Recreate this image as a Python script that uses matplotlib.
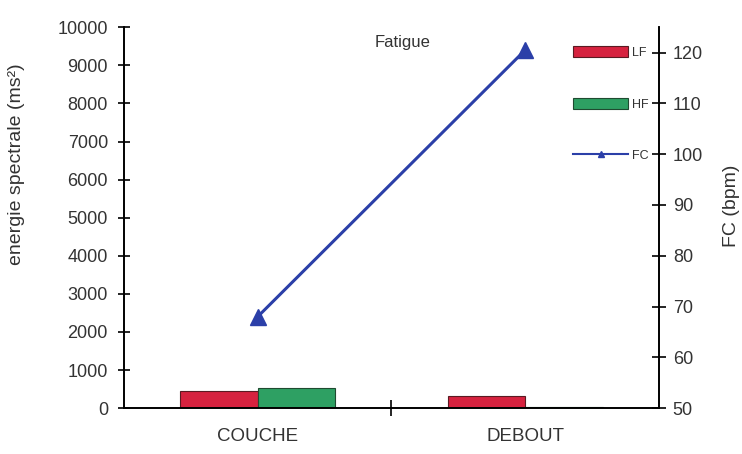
import matplotlib.pyplot as plt
from matplotlib.ticker import FixedLocator

# données
positions = ["COUCHE", "DEBOUT"]
lf = [450, 330]
hf = [530, 30]
fc = [68, 120.5]

COL_LF = "#d6223f"
COL_HF = "#2ea063"
COL_FC = "#2b3fa8"
TXT = "#333333"

plt.rcParams["font.family"] = ["Liberation Sans", "DejaVu Sans"]

fig = plt.figure(figsize=(7.42, 4.54), dpi=100)
ax = fig.add_axes([0.167, 0.101, 0.721, 0.839])
ax2 = ax.twinx()

x = range(len(positions))
w = 0.29
ax.bar([i - w for i in x], lf, width=w, align="edge", color=COL_LF,
       edgecolor="#5a1a22", linewidth=0.8, label="LF")
ax.bar(list(x), hf, width=w, align="edge", color=COL_HF,
       edgecolor="#1f4a30", linewidth=0.8, label="HF")
ax2.plot(list(x), fc, color=COL_FC, linewidth=2.2, marker="^",
         markersize=11, label="FC")

ax.set_xlim(-0.5, 1.5)
ax.set_ylim(0, 10000)
ax2.set_ylim(50, 125)

ax.set_yticks(range(0, 10001, 1000))
ax2.set_yticks(range(50, 121, 10))
ax.set_xticks(list(x))
ax.set_xticklabels(positions)
ax.xaxis.set_minor_locator(FixedLocator([0.5]))
ax.tick_params(axis="x", which="major", length=0, pad=14,
               labelsize=13.5, labelcolor=TXT)
ax.tick_params(axis="x", which="minor", direction="inout", length=12,
               width=1.2)
ax.tick_params(axis="y", direction="inout", length=9, width=1.2,
               labelsize=13, labelcolor=TXT, pad=7)
ax2.tick_params(axis="y", direction="inout", length=10, width=1.2,
                labelsize=13, labelcolor=TXT, pad=5)

for a in (ax, ax2):
    a.spines["top"].set_visible(False)
    for s in ("left", "right", "bottom"):
        a.spines[s].set_linewidth(1.2)

ax.set_ylabel("energie spectrale (ms²)", fontsize=14, color=TXT)
ax.yaxis.set_label_coords(-0.185, 0.64)
ax2.set_ylabel("FC (bpm)", fontsize=14, color=TXT)
ax2.yaxis.set_label_coords(1.12, 0.53)

ax.text(0.52, 0.96, "Fatigue", transform=ax.transAxes, ha="center",
        va="center", fontsize=12, color=TXT)

h1, l1 = ax.get_legend_handles_labels()
h2, l2 = ax2.get_legend_handles_labels()
leg = ax2.legend(h1 + h2, l1 + l2, loc="upper right",
                 bbox_to_anchor=(0.995, 0.97), frameon=False, fontsize=9,
                 handlelength=4.4, handleheight=1.0, labelspacing=3.1,
                 handletextpad=0.3, borderaxespad=0.2)
for t in leg.get_texts():
    t.set_color(TXT)
fc_handle = leg.legend_handles[2]
fc_handle.set_markersize(5)
fc_handle.set_linewidth(1.5)

fig.savefig("out.png", dpi=100, facecolor="white")
